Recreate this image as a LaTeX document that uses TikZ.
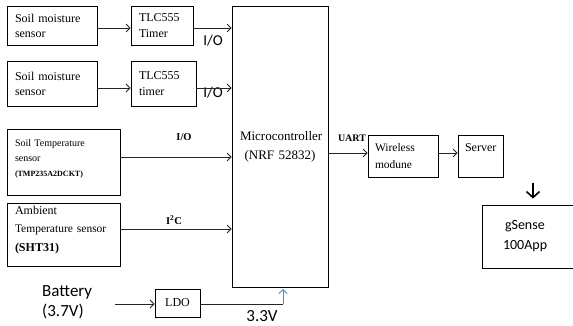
\documentclass[tikz,border=0pt]{standalone}
\usepackage{fontspec}
\setmainfont{Liberation Serif}
\newfontfamily\calib{Carlito}
\usetikzlibrary{arrows.meta}
\begin{document}
\begin{tikzpicture}[x=1pt,y=-1pt,
  box/.style={draw=black, line width=0.8pt, rectangle, inner xsep=8pt, inner ysep=0pt, align=left},
  arr/.style={draw=black!85, line width=0.8pt, -{Straight Barb[length=4pt,width=8pt,line width=0.8pt]}},
  bluearr/.style={draw=blue!35!cyan!60!gray, line width=0.9pt, -{Straight Barb[length=4pt,width=8pt,line width=0.9pt]}},
  bigarr/.style={draw=black, line width=1.6pt, -{Straight Barb[length=6pt,width=13pt,line width=1.6pt]}},
  sanslab/.style={inner sep=0pt, font=\calib\fontsize{15}{17}\selectfont},
  serlab/.style={inner sep=0pt, font=\bfseries\fontsize{10.5}{12}\selectfont}
]
\useasboundingbox (0,0) rectangle (573,325);
\clip (0,0) rectangle (573,325);

% sensor boxes
\node[box, minimum width=90, minimum height=39, text width=74, font=\fontsize{12}{15}\selectfont] (sm1) at (52,25.5) {Soil moisture\\sensor};
\node[box, minimum width=62, minimum height=39, text width=46, font=\fontsize{12}{16}\selectfont] (tlc1) at (162,25.5) {TLC555\\Timer};
\node[box, minimum width=90, minimum height=45, text width=74, font=\fontsize{12}{15}\selectfont] (sm2) at (52,83.5) {Soil moisture\\sensor};
\node[box, minimum width=65, minimum height=45, text width=49, font=\fontsize{12}{16}\selectfont] (tlc2) at (163.5,83.5) {TLC555\\timer};
\node[box, minimum width=113, minimum height=66, text width=97, text height=9pt, text depth=41pt, font=\fontsize{10}{15}\selectfont] (st) at (63.5,162) {Soil Temperature\\sensor\\{\fontsize{8}{15}\selectfont\bfseries (TMP235A2DCKT)}};
\node[box, minimum width=113, minimum height=63, text width=97, text height=9pt, text depth=50pt, font=\fontsize{12}{18.5}\selectfont] (amb) at (63.5,234.5) {Ambient\\{\fontsize{11.5}{18.5}\selectfont Temperature sensor}\\{\bfseries (SHT31)}};

% microcontroller
\node[box, align=center, minimum width=96, minimum height=281, text width=80, font=\fontsize{13}{19}\selectfont] (mcu) at (280,146.5) {Microcontroller\\(NRF 52832)};

% right side
\node[box, inner xsep=7pt, minimum width=70, minimum height=42, text width=56, font=\fontsize{11.5}{17}\selectfont] (wm) at (403,156) {Wireless\\modune};
\node[box, inner xsep=7pt, minimum width=45, minimum height=42, text width=31, font=\fontsize{12}{16}\selectfont] (srv) at (480.5,156) {Server\\\mbox{}};
\node[box, minimum width=108, minimum height=63, text width=92, font=\calib\fontsize{14}{20}\selectfont] (app) at (536,236.5) {\hspace*{15pt}gSense\\\hspace*{13pt}100App};

% power
\node[box, inner xsep=0pt, minimum width=45, minimum height=28, font=\fontsize{12}{14}\selectfont] (ldo) at (177.5,303) {LDO};
\node[anchor=west, align=left, inner sep=0pt, font=\calib\fontsize{17}{20}\selectfont] (bat) at (42,302) {Battery\\(3.7V)};
\coordinate (batout) at (115,304);
\coordinate (vc) at (283,304);
\coordinate (dn) at (533,183);

% labels
\node[sanslab] (io1) at (213,41) {I/O};
\node[sanslab] (io2) at (213,93) {I/O};
\node[serlab] (io3) at (184,137) {I/O};
\node[serlab] (i2c) at (174,220) {I\textsuperscript{2}C};
\node[serlab, font=\bfseries\fontsize{10}{12}\selectfont] (uart) at (352,138) {UART};
\node[sanslab, font=\calib\fontsize{17}{19}\selectfont] (v33) at (262,316) {3.3V};

% connectors
\draw[arr] ([yshift=-2.5pt]sm1.east) -- ([yshift=-2.5pt]tlc1.west);
\draw[arr] ([yshift=-2.5pt]tlc1.east) -- ([yshift=-2.5pt]tlc1.east -| mcu.west);
\draw[arr] ([yshift=-4.5pt]sm2.east) -- ([yshift=-4.5pt]tlc2.west);
\draw[arr] ([yshift=-4.5pt]tlc2.east) -- ([yshift=-4.5pt]tlc2.east -| mcu.west);
\draw[arr] ([yshift=5pt]st.east) -- ([yshift=5pt]st.east -| mcu.west);
\draw[arr] ([yshift=5.5pt]amb.east) -- ([yshift=5.5pt]amb.east -| mcu.west);
\draw[arr] ([yshift=3pt]wm.west -| mcu.east) -- ([yshift=3pt]wm.west);
\draw[arr] ([yshift=3pt]wm.east) -- ([yshift=3pt]srv.west);
\draw[bigarr] (dn) -- ([xshift=-3pt,yshift=6pt]app.north);
\draw[arr] (batout) -- (batout -| ldo.west);
\draw[draw=black!85, line width=0.8pt] (ldo.east |- vc) -- (vc);
\draw[bluearr, shorten >=1.5pt] (vc) -- (vc |- mcu.south);
\end{tikzpicture}
\end{document}
